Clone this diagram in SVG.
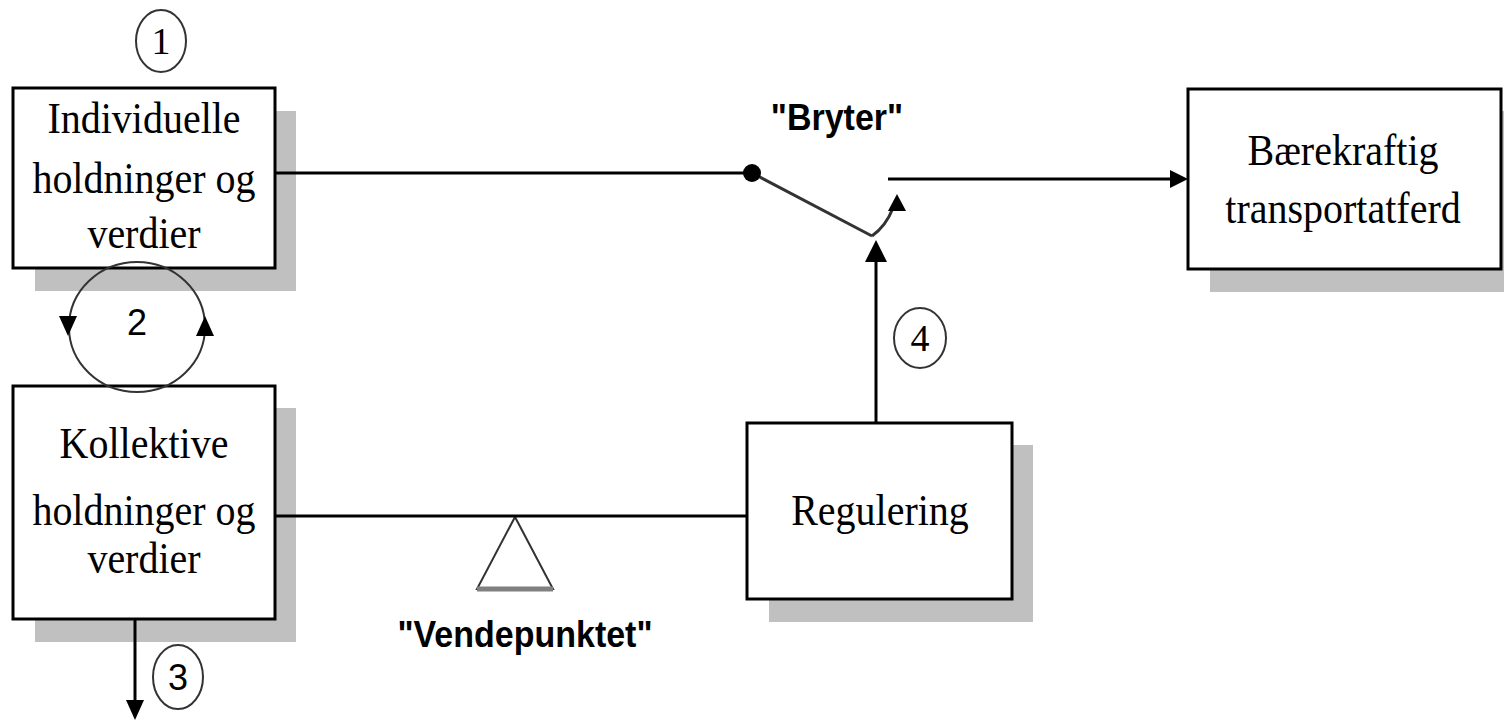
<svg xmlns="http://www.w3.org/2000/svg" width="1504" height="722" viewBox="0 0 1504 722">
<style>
.box{fill:#fff;stroke:#000;stroke-width:3}
.shadow{fill:#c0c0c0}
.t{font-family:"Liberation Serif","Times New Roman",serif;font-size:40px;fill:#000;text-anchor:middle}
.b{font-family:"Liberation Sans",Arial,sans-serif;font-weight:bold;font-size:34px;fill:#000;text-anchor:middle}
.n{font-family:"Liberation Sans",Arial,sans-serif;font-size:36px;fill:#000;text-anchor:middle}
.ns{font-family:"Liberation Serif","Times New Roman",serif;font-size:38px;fill:#000;text-anchor:middle}
.oval{fill:none;stroke:#333;stroke-width:2}
.line{fill:none;stroke:#000;stroke-width:3}
.head{fill:#000}
</style>
<rect width="1504" height="722" fill="#fff"/>

<g id="node-individuelle">
  <rect class="shadow" x="35" y="111" width="261" height="180"/>
  <rect class="box" x="13" y="88" width="262" height="180"/>
  <text class="t" transform="translate(144,133) scale(1,1.12)">Individuelle</text>
  <text class="t" transform="translate(144,193) scale(1,1.12)">holdninger og</text>
  <text class="t" transform="translate(144,248) scale(1,1.12)">verdier</text>
</g>

<g id="node-kollektive">
  <rect class="shadow" x="35" y="408" width="261" height="234"/>
  <rect class="box" x="13" y="386" width="262" height="233"/>
  <text class="t" transform="translate(144,458) scale(1,1.12)">Kollektive</text>
  <text class="t" transform="translate(144,525) scale(1,1.12)">holdninger og</text>
  <text class="t" transform="translate(144,573) scale(1,1.12)">verdier</text>
</g>

<g id="node-regulering">
  <rect class="shadow" x="769" y="445" width="264" height="177"/>
  <rect class="box" x="747" y="423" width="265" height="176"/>
  <text class="t" transform="translate(880,525) scale(1,1.12)">Regulering</text>
</g>

<g id="node-baerekraftig">
  <rect class="shadow" x="1210" y="111" width="294" height="181"/>
  <rect class="box" x="1188" y="89" width="313" height="180"/>
  <text class="t" transform="translate(1343,165) scale(1,1.12)">Bærekraftig</text>
  <text class="t" transform="translate(1343,223) scale(1,1.12)">transportatferd</text>
</g>

<g id="fulcrum">
  <polygon points="515,517 477,589 553,589" fill="none" stroke="#333" stroke-width="2"/>
  <line x1="477" y1="589" x2="553" y2="589" stroke="#808080" stroke-width="5"/>
  <text class="b" transform="translate(525,647) scale(1,1.1)">"Vendepunktet"</text>
</g>

<g id="switch-label">
  <text class="b" transform="translate(837,130) scale(1,1.1)">"Bryter"</text>
</g>

<g id="connectors">
  <line class="line" x1="275" y1="173" x2="752" y2="173"/>
  <line x1="752" y1="173" x2="872" y2="236" stroke="#333" stroke-width="3"/>
  <path d="M872 236 Q886 226 893 208" fill="none" stroke="#333" stroke-width="3"/>
  <polygon class="head" points="897,194 888,211 906,211"/>
  <circle cx="752" cy="173" r="9" fill="#000"/>
  <line class="line" x1="888" y1="179" x2="1172" y2="179"/>
  <polygon class="head" points="1188,179 1170,170 1170,188"/>
  <line class="line" x1="876" y1="423" x2="876" y2="258"/>
  <polygon class="head" points="876,240 865,262 887,262"/>
  <line class="line" x1="275" y1="516" x2="747" y2="516"/>
  <line class="line" x1="135" y1="619" x2="135" y2="702"/>
  <polygon class="head" points="135,720 126,700 144,700"/>
  <ellipse class="oval" cx="137" cy="327" rx="68" ry="65"/>
  <polygon class="head" points="68,336 59,316 77,316"/>
  <polygon class="head" points="205,316 196,336 214,336"/>
</g>

<g id="marker-1">
  <ellipse class="oval" cx="161" cy="41" rx="25" ry="31"/>
  <text class="ns" x="161" y="54">1</text>
</g>
<g id="marker-2">
  <text class="n" x="137" y="335">2</text>
</g>
<g id="marker-3">
  <ellipse class="oval" cx="178" cy="677" rx="25" ry="32"/>
  <text class="n" x="178" y="690">3</text>
</g>
<g id="marker-4">
  <ellipse class="oval" cx="920" cy="338" rx="26" ry="30"/>
  <text class="ns" x="920" y="351">4</text>
</g>
</svg>
